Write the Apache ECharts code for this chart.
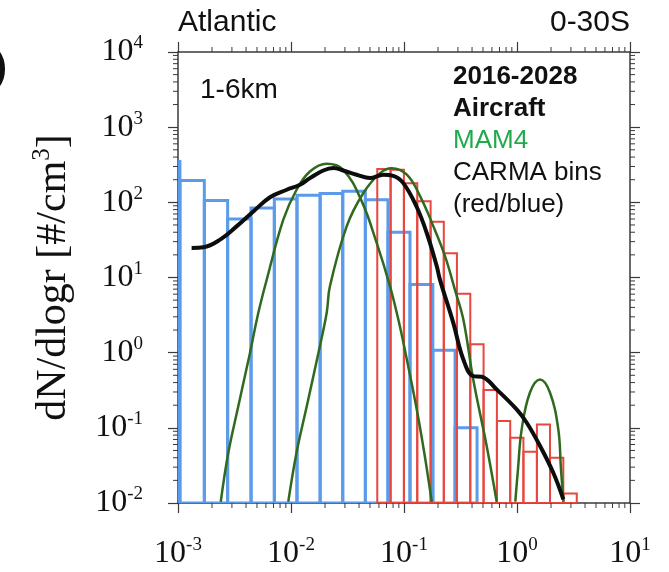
<!DOCTYPE html>
<html lang="en">

<head>
    <title>Atlantic 0-30S size distribution</title>
    <meta charset="UTF-8">
    <script src="https://cdn.jsdelivr.net/npm/echarts@6/dist/echarts.min.js"></script>
    <style>
        html, body { margin: 0; padding: 0; background: #fff; }
    </style>
</head>

<body>
    <div id="main" style="width: 669px;height:572px;"></div>
    <script>
        // CARMA bins: edges (radius, um) and dN/dlogr per bin
        var blueEdges = [0.00065, 0.00104, 0.00171, 0.00275, 0.00443, 0.00712, 0.0113, 0.0181,
            0.0287, 0.0455, 0.0721, 0.113, 0.180, 0.283, 0.443];
        var blueValues = [349, 195, 106, 60, 84, 111, 124, 131, 140, 108, 40, 8.05, 1.08, 0.10];

        var redEdges = [0.0580, 0.0761, 0.0998, 0.131, 0.172, 0.225, 0.294, 0.386, 0.506, 0.664,
            0.871, 1.14, 1.50, 1.96, 2.57, 3.38];
        var redValues = [277, 271, 180, 103, 55, 21, 6.1, 1.29, 0.318, 0.123, 0.074, 0.048, 0.111, 0.040, 0.0134];

        // aircraft (black curve)
        var aircraftR = [0.00132, 0.00168, 0.00236, 0.00330, 0.00464, 0.00652, 0.00916, 0.0120, 0.0147,
            0.0193, 0.0237, 0.0290, 0.0381, 0.0500, 0.0656, 0.0804, 0.0986, 0.129, 0.159, 0.195, 0.208,
            0.273, 0.335, 0.410, 0.487, 0.661, 0.993, 1.22, 1.60, 2.09, 2.57];
        var aircraftN = [24.7, 25.2, 31.9, 47.9, 75.7, 117, 147, 171, 210,
            265, 286, 265, 233, 210, 233, 225, 180, 88, 39.1, 14.1, 9.38,
            2.49, 0.813, 0.488, 0.479, 0.324, 0.176, 0.117, 0.0573, 0.0254, 0.0112];

        // MAM4 modes (green curves)
        var aitkenR = [0.00239, 0.00279, 0.00342, 0.00434, 0.00514, 0.00610, 0.00855, 0.0112, 0.0147,
            0.0207, 0.0290, 0.0423, 0.0573, 0.0752, 0.0891, 0.103, 0.128, 0.151, 0.176];
        var aitkenN = [0.0104, 0.0469, 0.195, 1.0, 3.39, 9.38, 58.7, 147, 257,
            326, 271, 103, 28.8, 7.64, 2.76, 1.0, 0.195, 0.0469, 0.0104];

        var accumR = [0.00946, 0.0112, 0.0138, 0.0175, 0.0207, 0.0221, 0.0311, 0.0437, 0.0614, 0.0778,
            0.106, 0.139, 0.182, 0.231, 0.282, 0.335, 0.410, 0.539, 0.661];
        var accumN = [0.0104, 0.0469, 0.195, 1.0, 3.39, 7.64, 47.9, 133, 245, 285,
            233, 120, 47.9, 19.1, 6.91, 2.76, 0.44, 0.0573, 0.0104];

        var coarseR = [0.966, 1.02, 1.10, 1.30, 1.60, 1.96, 2.32, 2.45, 2.58];
        var coarseN = [0.0104, 0.0281, 0.0955, 0.293, 0.44, 0.293, 0.0955, 0.0281, 0.0104];

        // axis decades and the log minor-tick steps inside each decade
        var xDecades = [0.001, 0.01, 0.1, 1];
        var yDecades = [0.01, 0.1, 1, 10, 100, 1000];
        var minorSteps = [2, 3, 4, 5, 6, 7, 8, 9];

        var blueColor = '#5b9be9';
        var redColor = '#e8463e';
        var greenColor = '#2f6a1f';
        var axisColor = '#3a3a3a';
        var serif = '"Liberation Serif", "DejaVu Serif", serif';
        var sans = '"Liberation Sans", Arial, sans-serif';

        function zip(xs, ys) {
            return xs.map(function (x, i) { return [x, ys[i]]; });
        }

        function binData(edges, values) {
            return values.map(function (v, i) { return [edges[i], edges[i + 1], v]; });
        }

        function minorValues(decades) {
            var out = [];
            decades.forEach(function (d) {
                minorSteps.forEach(function (s) { out.push(d * s); });
            });
            return out;
        }

        function binRender(color, width) {
            return function (params, api) {
                var cs = params.coordSys;
                var p0 = api.coord([api.value(0), api.value(2)]);
                var p1 = api.coord([api.value(1), 0.01]);
                var x0 = Math.max(p0[0], cs.x);
                return {
                    type: 'rect',
                    shape: { x: x0, y: p0[1], width: p1[0] - x0, height: p1[1] - p0[1] },
                    style: { fill: null, stroke: color, lineWidth: width }
                };
            };
        }

        // minor ticks on both sides of the frame, placed through the axes
        function xMinorRender(params, api) {
            var cs = params.coordSys;
            var px = api.coord([api.value(0), 1])[0];
            var st = { stroke: axisColor, lineWidth: 1 };
            return {
                type: 'group', children: [
                    { type: 'line', shape: { x1: px, y1: cs.y + cs.height, x2: px, y2: cs.y + cs.height + 5 }, style: st },
                    { type: 'line', shape: { x1: px, y1: cs.y, x2: px, y2: cs.y - 5 }, style: st }
                ]
            };
        }

        function yMinorRender(params, api) {
            var cs = params.coordSys;
            var py = api.coord([0.01, api.value(0)])[1];
            var st = { stroke: axisColor, lineWidth: 1 };
            return {
                type: 'group', children: [
                    { type: 'line', shape: { x1: cs.x, y1: py, x2: cs.x - 5, y2: py }, style: st },
                    { type: 'line', shape: { x1: cs.x + cs.width, y1: py, x2: cs.x + cs.width + 5, y2: py }, style: st }
                ]
            };
        }

        function supLabel(val) {
            var e = Math.round(Math.log10(val));
            return '{b|10}{s|' + e + '}';
        }

        var labelRich = {
            b: { fontFamily: serif, fontSize: 32, color: '#111', lineHeight: 36 },
            s: { fontFamily: serif, fontSize: 19, color: '#111', lineHeight: 36, verticalAlign: 'top', padding: [0, 0, 14, 0] }
        };

        function logAxis(pos, min, max, showLabel) {
            return {
                type: 'log',
                logBase: 10,
                position: pos,
                min: min,
                max: max,
                splitLine: { show: false },
                axisLine: { show: true, lineStyle: { color: axisColor, width: 1.5 } },
                axisTick: { show: true, inside: false, length: 10, lineStyle: { color: axisColor, width: 1.2 } },
                minorTick: { show: false },
                axisLabel: {
                    show: showLabel,
                    margin: pos === 'left' ? 35 : 33,
                    formatter: supLabel,
                    rich: labelRich
                }
            };
        }

        var myChart = echarts.init(document.getElementById('main'));

        var yLeft = logAxis('left', 0.01, 10000, true);
        yLeft.name = 'dN/dlogr [#/cm{s|3}]';
        yLeft.nameLocation = 'middle';
        yLeft.nameGap = 100;
        yLeft.nameTextStyle = {
            fontFamily: serif, fontSize: 42, color: '#111',
            rich: {
                s: { fontFamily: serif, fontSize: 25, color: '#111', verticalAlign: 'top', lineHeight: 48, padding: [0, 0, 18, 0] }
            }
        };

        var option = {
            animation: false,
            backgroundColor: '#fff',
            grid: { left: 178, top: 52, right: 39, bottom: 69, containLabel: false },
            xAxis: [logAxis('bottom', 0.001, 10, true), logAxis('top', 0.001, 10, false)],
            yAxis: [yLeft, logAxis('right', 0.01, 10000, false)],
            graphic: [
                { type: 'text', left: 178, top: 8, style: { text: 'Atlantic', font: '500 30px ' + sans, fill: '#111' } },
                { type: 'text', right: 39, top: 8, style: { text: '0-30S', font: '500 30px ' + sans, fill: '#111' } },
                { type: 'text', right: 662, top: 50, style: { text: 'b)', font: 'bold 38px ' + sans, fill: '#111' } },
                { type: 'text', left: 200, top: 76, style: { text: '1-6km', font: '28px ' + sans, fill: '#111' } },
                { type: 'text', left: 453, top: 64, style: { text: '2016-2028', font: 'bold 26px ' + sans, fill: '#111' } },
                { type: 'text', left: 453, top: 96, style: { text: 'Aircraft', font: 'bold 26px ' + sans, fill: '#111' } },
                { type: 'text', left: 453, top: 128, style: { text: 'MAM4', font: '26px ' + sans, fill: '#1faa4c' } },
                { type: 'text', left: 453, top: 160, style: { text: 'CARMA bins', font: '26px ' + sans, fill: '#111' } },
                { type: 'text', left: 453, top: 192, style: { text: '(red/blue)', font: '26px ' + sans, fill: '#111' } }
            ],
            series: [
                {
                    name: 'CARMA blue', type: 'custom', clip: true,
                    renderItem: binRender(blueColor, 3),
                    encode: { x: [0, 1], y: 2 },
                    data: binData(blueEdges, blueValues)
                },
                {
                    name: 'CARMA red', type: 'custom', clip: true,
                    renderItem: binRender(redColor, 2),
                    encode: { x: [0, 1], y: 2 },
                    data: binData(redEdges, redValues)
                },
                {
                    name: 'MAM4 aitken', type: 'line', smooth: 0.4, symbol: 'none', clip: true,
                    lineStyle: { color: greenColor, width: 2.5 }, data: zip(aitkenR, aitkenN)
                },
                {
                    name: 'MAM4 accum', type: 'line', smooth: 0.4, symbol: 'none', clip: true,
                    lineStyle: { color: greenColor, width: 2.5 }, data: zip(accumR, accumN)
                },
                {
                    name: 'MAM4 coarse', type: 'line', smooth: 0.4, symbol: 'none', clip: true,
                    lineStyle: { color: greenColor, width: 2.5 }, data: zip(coarseR, coarseN)
                },
                {
                    name: 'Aircraft', type: 'line', smooth: 0.4, symbol: 'none', clip: true,
                    lineStyle: { color: '#0d0d0d', width: 4 }, data: zip(aircraftR, aircraftN)
                },
                {
                    name: 'x minor ticks', type: 'custom', clip: false, silent: true,
                    renderItem: xMinorRender,
                    encode: { x: 0, y: 1 },
                    data: minorValues(xDecades).map(function (v) { return [v, 1]; })
                },
                {
                    name: 'y minor ticks', type: 'custom', clip: false, silent: true,
                    renderItem: yMinorRender,
                    encode: { x: 1, y: 0 },
                    data: minorValues(yDecades).map(function (v) { return [v, 0.01]; })
                }
            ]
        };

        myChart.setOption(option);
    </script>
</body>

</html>
